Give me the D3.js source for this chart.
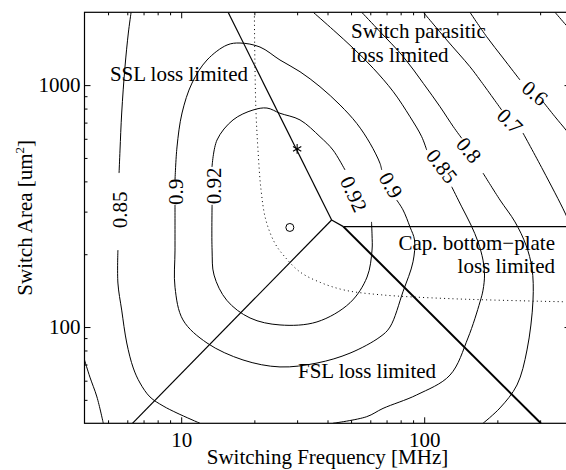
<!DOCTYPE html>
<html>
<head>
<meta charset="utf-8">
<script src="https://cdn.jsdelivr.net/npm/d3@7"></script>
<style>
  body { margin: 0; background: #fff; }
  svg { display: block; font-family: "Liberation Serif", "Times New Roman", serif; }
</style>
</head>
<body>
<div id="chart"></div>
<script>
// efficiency contours as [frequency MHz, switch area um^2]
// each contour is split where its label sits
const c092a = [[13.39, 459], [14.04, 593], [16.34, 718], [19.74, 789], [22.54, 804], [25.5, 765],
  [30.83, 718], [37.26, 612], [42.14, 539], [47.21, 446]];
const c092b = [[60.7, 272], [61.0, 240], [61.0, 208], [58.2, 161], [49.5, 126], [36.2, 105],
  [25.5, 102], [19.2, 109], [15.4, 129], [13.65, 164], [13.4, 208], [13.4, 320]];

const c090a = [[9.43, 405], [9.61, 555], [10.08, 767], [11.08, 1020], [12.77, 1270], [15.44, 1465],
  [17.46, 1493], [21.1, 1437], [25.5, 1270], [30.83, 1136], [37.26, 985], [45.03, 828],
  [52.75, 695], [59.84, 575], [65.78, 475], [66.85, 446]];
const c090b = [[77.06, 335], [81.8, 305], [87.43, 259], [91.23, 229], [89.94, 186], [81.8, 140],
  [72.31, 100], [65.78, 91], [49.51, 78], [36.22, 71], [25.5, 68.4], [17.96, 73.1],
  [12.77, 85.9], [10.17, 107], [9.43, 146], [9.43, 208], [9.43, 320]];

const c085a = [[6.22, 2000], [6.06, 1642], [5.87, 1188], [5.69, 767], [5.6, 539], [5.55, 433]];
const c085b = [[5.49, 208], [5.49, 152], [5.69, 117.5], [5.97, 85.9], [6.35, 67.7], [6.77, 58.7],
  [7.44, 51.4], [8.42, 47.2], [9.61, 44.1], [11.95, 40]];
const c085c = [[34.96, 2000], [42.26, 1690], [51.08, 1420], [61.74, 1173], [74.62, 939],
  [87.43, 740], [97.66, 612], [102.4, 539]];
const c085d = [[129.8, 380], [142.7, 314], [155.8, 264], [166.5, 225], [174.6, 189], [177.1, 164],
  [174.6, 142], [169.7, 127], [151.4, 90.1], [127.7, 63.3], [93.1, 52.4], [67.7, 46.1],
  [58, 42.6], [42.1, 40]];

const c080a = [[4.0, 73.1], [4.21, 62.1], [4.5, 51.4], [4.78, 40]];
const c080b = [[55.34, 2000], [65.78, 1663], [82.03, 1311], [99.15, 1017], [116.2, 814],
  [131.8, 673], [142.7, 603]];
const c080c = [[174.6, 433], [205.1, 335], [236.4, 272], [262.4, 218], [277.7, 175], [280.4, 129],
  [264.9, 80.4], [240.9, 57.6], [205.1, 46.3], [174.6, 40]];

const c070a = [[99.2, 2000], [123.8, 1537], [154.3, 1191], [169.7, 1050], [208.4, 789]];
const c070b = [[255, 634], [308, 446], [380, 296], [400, 262]];

const c060a = [[154.3, 2000], [180.8, 1585], [211, 1295], [247.9, 1050]];
const c060b = [[308.3, 854], [345.4, 740], [383.3, 652], [400, 616]];

const c050a = [[345.4, 2000], [383.3, 1772], [400, 1690]];

const contours = [c092a, c092b, c090a, c090b, c085a, c085b, c085c, c085d,
  c080a, c080b, c080c, c070a, c070b, c060a, c060b, c050a];

// contour labels: text, position, rotation
const levelText = ['0.85', '0.9', '0.92', '0.92', '0.9', '0.85', '0.8', '0.7', '0.6'];
const levelPos = [[5.57, 305], [9.52, 362], [13.58, 383], [51.4, 355], [73, 386],
  [118.4, 463], [152.9, 539], [225.5, 711], [285.8, 928]];
const levelAngle = [-90, -90, -90, 65, 60, 52, 50, 45, 40];

// region boundaries
const sslLine = [[15.6, 2000], [41.6, 277]];
const fslLine = [[41.6, 277], [6.3, 40]];
const capKink = [[41.6, 277], [46.5, 260]];
const capLine = [[46.5, 260], [400, 260]];
const parLine = [[46.5, 260], [302, 40]];
const dotCurve = [[20, 2000], [20.1, 1270], [20.3, 790], [20.7, 540], [21.3, 370], [22.3, 277],
  [24.3, 222], [26.7, 195], [30.8, 169], [37.3, 153], [47.2, 142], [65.8, 136], [128, 131], [400, 127]];
const starPt = [30, 545];
const circlePt = [28, 258];

// region names
const regionText = [['SSL loss limited'], ['Switch parasitic', 'loss limited'],
  ['Cap. bottom\u2212plate', 'loss limited'], ['FSL loss limited']];
const regionPos = [[5.09, 1040], [50, 1566], [345.4, 208.2], [30.25, 61.3]];
const regionAnchor = ['start', 'start', 'end', 'start'];

const xMajor = [10, 100];
const xMinor = [5, 6, 7, 8, 9, 20, 30, 40, 50, 60, 70, 80, 90, 200, 300];
const yMajor = [100, 1000];
const yMinor = [50, 60, 70, 80, 90, 200, 300, 400, 500, 600, 700, 800, 900];

const width = 566;
const height = 470;
const margin = { top: 12.3, right: -4.5, bottom: 46.7, left: 84.5 };
const fontSize = 21;

const svg = d3.select('#chart')
  .append('svg')
  .attr('width', width)
  .attr('height', height);

const x = d3.scaleLog()
  .domain([4, 400])
  .range([margin.left, width - margin.right]);

const y = d3.scaleLog()
  .domain([40, 2000])
  .range([height - margin.bottom, margin.top]);

svg.append('clipPath').attr('id', 'clip')
  .append('rect')
  .attr('x', margin.left).attr('y', margin.top)
  .attr('width', x.range()[1] - margin.left)
  .attr('height', y.range()[0] - margin.top);

const plot = svg.append('g').attr('clip-path', 'url(#clip)');

const smooth = d3.line()
  .x(d => x(d[0]))
  .y(d => y(d[1]))
  .curve(d3.curveCatmullRom.alpha(0.5));

const straight = d3.line()
  .x(d => x(d[0]))
  .y(d => y(d[1]));

plot.append('g')
  .selectAll('path')
  .data(contours)
  .join('path')
  .attr('d', smooth)
  .attr('fill', 'none')
  .attr('stroke', '#000')
  .attr('stroke-width', 1);

plot.append('path')
  .attr('d', smooth(dotCurve))
  .attr('fill', 'none')
  .attr('stroke', '#000')
  .attr('stroke-width', 1)
  .attr('stroke-dasharray', '1,3.2');

plot.append('g')
  .selectAll('path')
  .data([sslLine, fslLine, capKink, capLine])
  .join('path')
  .attr('d', straight)
  .attr('fill', 'none')
  .attr('stroke', '#000')
  .attr('stroke-width', 1.2);

plot.append('path')
  .attr('d', straight(parLine))
  .attr('fill', 'none')
  .attr('stroke', '#000')
  .attr('stroke-width', 2);

plot.append('path')
  .attr('transform', `translate(${x(starPt[0])},${y(starPt[1])})`)
  .attr('d', d3.symbol(d3.symbolAsterisk, 64)())
  .attr('fill', 'none')
  .attr('stroke', '#000')
  .attr('stroke-width', 1.1);

plot.append('circle')
  .attr('cx', x(circlePt[0]))
  .attr('cy', y(circlePt[1]))
  .attr('r', 4)
  .attr('fill', 'none')
  .attr('stroke', '#000')
  .attr('stroke-width', 1);

// contour labels
plot.append('g')
  .selectAll('text')
  .data(levelText)
  .join('text')
  .attr('transform', (d, i) => `translate(${x(levelPos[i][0])},${y(levelPos[i][1])}) rotate(${levelAngle[i]})`)
  .attr('text-anchor', 'middle')
  .attr('dy', '0.35em')
  .attr('font-size', fontSize)
  .text(d => d);

// region names
regionText.forEach((lines, i) => {
  const t = plot.append('text')
    .attr('x', x(regionPos[i][0]))
    .attr('y', y(regionPos[i][1]))
    .attr('text-anchor', regionAnchor[i])
    .attr('font-size', fontSize);
  lines.forEach((s, j) => {
    t.append('tspan')
      .attr('x', x(regionPos[i][0]))
      .attr('dy', j === 0 ? 0 : 23.5)
      .text(s);
  });
});

// frame
svg.append('rect')
  .attr('x', margin.left).attr('y', margin.top)
  .attr('width', x.range()[1] - margin.left)
  .attr('height', y.range()[0] - margin.top)
  .attr('fill', 'none')
  .attr('stroke', '#000')
  .attr('stroke-width', 1.2);

function tidy(g) {
  g.select('.domain').remove();
  g.attr('font-family', null).attr('font-size', fontSize).attr('color', '#000');
}

const noLabel = () => '';
const yb = y.range()[0], yt = y.range()[1];
const xl = x.range()[0], xr = x.range()[1];

svg.append('g').attr('transform', `translate(0,${yb})`)
  .call(d3.axisBottom(x).tickValues(xMajor).tickFormat(d3.format('d')).tickSize(-6).tickPadding(9))
  .call(tidy);
svg.append('g').attr('transform', `translate(0,${yb})`)
  .call(d3.axisBottom(x).tickValues(xMinor).tickFormat(noLabel).tickSize(-3))
  .call(tidy);
svg.append('g').attr('transform', `translate(0,${yt})`)
  .call(d3.axisTop(x).tickValues(xMajor).tickFormat(noLabel).tickSize(-6))
  .call(tidy);
svg.append('g').attr('transform', `translate(0,${yt})`)
  .call(d3.axisTop(x).tickValues(xMinor).tickFormat(noLabel).tickSize(-3))
  .call(tidy);

svg.append('g').attr('transform', `translate(${xl},0)`)
  .call(d3.axisLeft(y).tickValues(yMajor).tickFormat(d3.format('d')).tickSize(-6).tickPadding(4))
  .call(tidy);
svg.append('g').attr('transform', `translate(${xl},0)`)
  .call(d3.axisLeft(y).tickValues(yMinor).tickFormat(noLabel).tickSize(-3))
  .call(tidy);
svg.append('g').attr('transform', `translate(${xr},0)`)
  .call(d3.axisRight(y).tickValues(yMajor).tickFormat(noLabel).tickSize(-6))
  .call(tidy);
svg.append('g').attr('transform', `translate(${xr},0)`)
  .call(d3.axisRight(y).tickValues(yMinor).tickFormat(noLabel).tickSize(-3))
  .call(tidy);

// axis titles
svg.append('text')
  .attr('x', (xl + xr) / 2)
  .attr('y', 464)
  .attr('text-anchor', 'middle')
  .attr('font-size', fontSize)
  .text('Switching Frequency [MHz]');

const yTitle = svg.append('text')
  .attr('transform', `translate(32,${(yb + yt) / 2}) rotate(-90)`)
  .attr('text-anchor', 'middle')
  .attr('font-size', fontSize);
yTitle.append('tspan').text('Switch Area [um');
yTitle.append('tspan').attr('font-size', fontSize * 0.62).attr('dy', -8).text('2');
yTitle.append('tspan').attr('dy', 8).text(']');
</script>
</body>
</html>
